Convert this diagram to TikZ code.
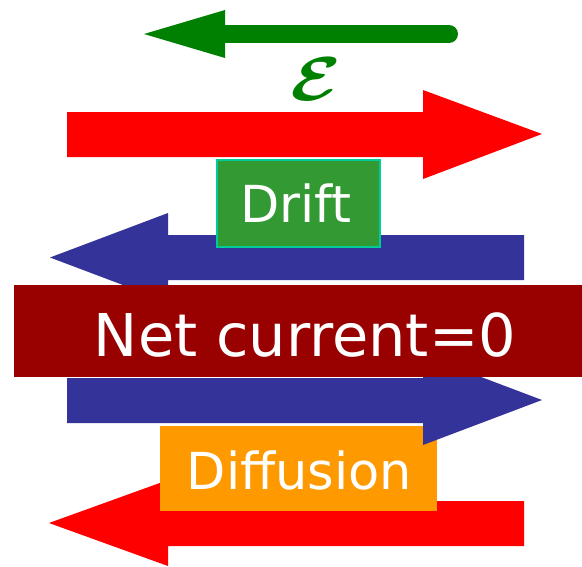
\documentclass[tikz,border=0pt]{standalone}
\usepackage{amsmath}
\usepackage{bm}
\usepackage{graphicx}
\usepackage{fontspec}
\newfontfamily\labelfont{DejaVu Sans}
\definecolor{fieldgreen}{RGB}{0,128,0}
\definecolor{arrowred}{RGB}{255,0,0}
\definecolor{arrowblue}{RGB}{51,51,153}
\definecolor{netred}{RGB}{153,0,0}
\definecolor{driftgreen}{RGB}{51,153,51}
\definecolor{driftedge}{RGB}{0,204,153}
\definecolor{difforange}{RGB}{255,153,0}
\tikzset{
  panel/.style={draw=none, inner sep=0pt, outer sep=0pt},
  caption/.style={text=white, inner sep=0pt, font=\labelfont\fontsize{51}{51}\selectfont},
}
\begin{document}
\begin{tikzpicture}[x=1pt,y=-1pt]
\useasboundingbox (0,0) rectangle (582,566);
\fill[white] (0,0) rectangle (582,566);

% field arrow with its label
\draw[fieldgreen, line width=18pt, line cap=round] (449,34) -- (222,34);
\fill[fieldgreen] (225,10) -- (144,34) -- (225,58) -- cycle;
\node[text=fieldgreen, inner sep=0pt] (field) at (316,79)
  {\scalebox{7.4}[6.2]{$\bm{\mathcal{E}}$}};

% drift: electric-field driven flow
\fill[arrowred] (67,112) -- (423,112) -- (423,90) -- (542,134) -- (423,179)
  -- (423,157) -- (67,157) -- cycle;
\fill[arrowblue] (524,235) -- (168,235) -- (168,213) -- (50,257.5) -- (168,302)
  -- (168,280) -- (524,280) -- cycle;
\node[panel, fill=driftgreen, draw=driftedge, line width=2pt,
  minimum width=163pt, minimum height=87pt] (drift) at (298,203) {};
\node[caption, anchor=base] (driftlabel) at (296,222) {Drift};

% diffusion: concentration driven flow
\fill[arrowred] (524,501) -- (168,501) -- (168,480) -- (49,523) -- (168,566)
  -- (168,546) -- (524,546) -- cycle;
\node[panel, fill=difforange, minimum width=277pt, minimum height=85pt]
  (diffusion) at (298.5,468.5) {};
\node[caption, anchor=base] (diffusionlabel) at (299.5,489) {Diffusion};
\fill[arrowblue] (67,378) -- (423,378) -- (423,355) -- (542,400) -- (423,445)
  -- (423,423) -- (67,423) -- cycle;

% balance of the two currents
\node[panel, fill=netred, minimum width=568pt, minimum height=92pt]
  (net) at (298,331) {};
\node[caption, anchor=base, font=\labelfont\fontsize{59}{59}\selectfont]
  (netlabel) at (305,356) {Net current=0};
\end{tikzpicture}
\end{document}
